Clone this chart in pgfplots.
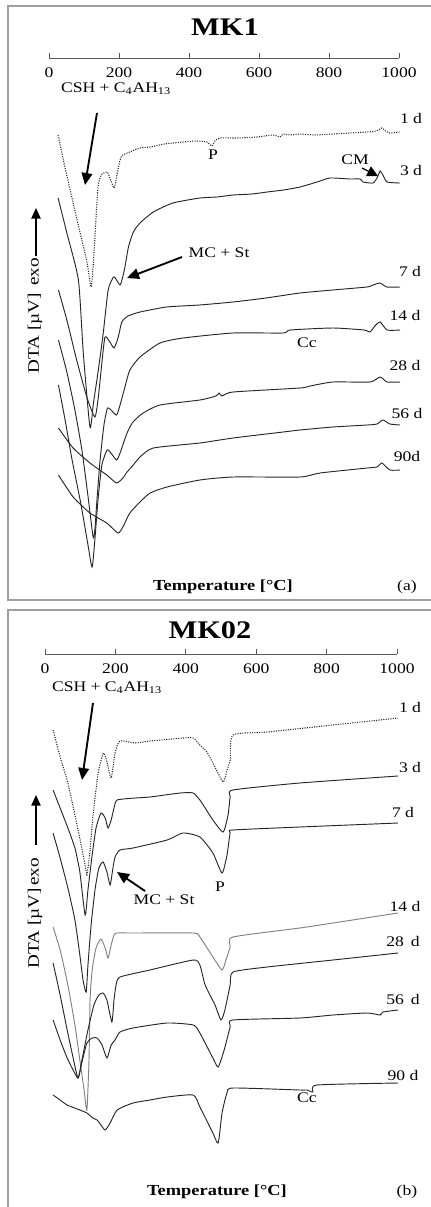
\documentclass[border=0pt]{standalone}
\usepackage{fontspec}
\setmainfont{Liberation Serif}[FakeStretch=1.2]
\usepackage{pgfplots}
\pgfplotsset{compat=1.18}
\usetikzlibrary{arrows.meta}

\pgfplotsset{
  curve/.style={black!85, line width=0.7pt, solid, no marks, smooth, tension=0.35},
  dots/.style={black!85, line width=0.8pt, densely dotted, no marks, smooth, tension=0.35},
  dta/.style={
    anchor=north west,
    x=0.2625pt, y=0.75pt,
    xmin=0, xmax=1000,
    axis x line=top, axis y line=none,
    axis line style={-, gray!70!black, line width=0.6pt},
    xtick={0,200,...,1000},
    tick align=outside, major tick length=4pt,
    xtick style={gray!70!black, line width=0.6pt},
    xticklabel style={anchor=north, yshift=-10pt, inner sep=1pt, font=\fontsize{11}{13}\selectfont},
    /pgf/number format/assume math mode=true,
    /pgf/number format/1000 sep={},
    clip=false,
  },
}

\begin{document}
\begin{tikzpicture}

% ---------- (a) MK1 ----------
\begin{axis}[dta, at={(36.75pt,-43.5pt)}, ymin=-600, ymax=-58]
% 1 d
\addplot[dots] coordinates {(26,-135)(46,-168)(69,-203)(89,-233)(109,-263)(120,-287)(126,-267)(134,-220)(140,-187)(149,-175)(166,-172)(174,-178)(186,-188)(194,-175)(203,-160)(211,-155)(260,-148)(289,-147)(330,-144)(383,-142)(420,-141)(451,-142)(466,-146)(474,-141)(489,-138)(540,-138)(594,-137)(640,-135)(660,-137)(669,-134)(690,-135)(720,-134)(760,-135)(811,-134)(860,-133)(909,-132)(935,-131)(951,-128)(962,-131)(974,-133)(1003,-132)};
% 3 d
\addplot[curve] coordinates {(26,-198)(51,-233)(84,-280)(98,-353)(117,-427)(127,-403)(141,-370)(155,-333)(169,-290)(184,-277)(191,-279)(203,-285)(210,-278)(217,-267)(227,-247)(241,-232)(260,-223)(298,-212)(354,-203)(431,-198)(480,-197)(526,-195)(580,-194)(623,-192)(670,-190)(717,-187)(766,-182)(803,-178)(860,-179)(889,-179)(897,-182)(926,-183)(937,-178)(946,-171)(954,-175)(966,-182)(1003,-183)};
% 7 d
\addplot[curve] coordinates {(27,-290)(51,-320)(79,-360)(108,-397)(131,-417)(141,-397)(151,-363)(160,-337)(174,-342)(186,-348)(198,-337)(208,-322)(226,-316)(260,-312)(336,-307)(430,-305)(526,-302)(620,-298)(717,-293)(810,-290)(908,-287)(926,-285)(946,-283)(965,-287)(1003,-287)};
% 14 d
\addplot[curve] coordinates {(27,-340)(51,-372)(74,-410)(94,-450)(111,-495)(126,-537)(131,-530)(137,-500)(146,-460)(157,-425)(167,-408)(177,-410)(193,-415)(203,-405)(217,-387)(231,-370)(260,-357)(317,-343)(383,-338)(526,-333)(669,-333)(689,-330)(811,-328)(900,-330)(917,-332)(931,-326)(946,-322)(966,-330)(1003,-330)};
% 28 d
\addplot[curve] coordinates {(27,-385)(46,-420)(66,-460)(89,-500)(109,-540)(123,-567)(131,-540)(140,-500)(151,-465)(166,-450)(177,-453)(193,-460)(203,-453)(223,-433)(240,-422)(269,-413)(317,-405)(431,-400)(477,-396)(486,-393)(494,-396)(526,-392)(717,-388)(746,-386)(811,-382)(917,-382)(946,-377)(966,-382)(1003,-382)};
% 56 d
\addplot[curve] coordinates {(27,-428)(69,-448)(117,-463)(165,-475)(193,-483)(211,-478)(223,-472)(236,-467)(260,-457)(298,-448)(431,-443)(526,-438)(669,-432)(717,-430)(811,-427)(909,-425)(937,-424)(954,-420)(974,-424)(1003,-425)};
% 90 d
\addplot[curve] coordinates {(27,-475)(69,-497)(117,-513)(165,-523)(197,-533)(211,-527)(231,-513)(260,-502)(289,-493)(337,-487)(431,-480)(526,-477)(717,-477)(774,-473)(909,-468)(937,-467)(951,-463)(974,-470)(1003,-470)};
\end{axis}

% ---------- (b) MK02 ----------
\begin{axis}[dta, at={(33.75pt,-490.5pt)}, x=0.264pt, ymin=-1207, ymax=-654]
% 1 d
\addplot[dots] coordinates {(23,-730)(43,-757)(65,-783)(94,-830)(114,-865)(119,-875)(128,-850)(136,-817)(151,-773)(166,-753)(176,-762)(188,-778)(199,-753)(213,-741)(256,-743)(298,-741)(392,-738)(421,-738)(440,-745)(460,-752)(477,-763)(506,-782)(517,-770)(526,-760)(534,-735)(631,-732)(818,-725)(1003,-718)};
% 3 d
\addplot[curve] coordinates {(23,-790)(43,-808)(65,-828)(85,-848)(99,-872)(114,-915)(122,-890)(134,-855)(145,-828)(159,-813)(171,-818)(179,-828)(188,-820)(196,-808)(205,-800)(256,-798)(298,-797)(384,-793)(421,-793)(440,-800)(455,-808)(477,-820)(506,-832)(520,-815)(526,-797)(534,-790)(724,-783)(1003,-776)};
% 7 d
\addplot[curve] coordinates {(23,-833)(43,-858)(65,-888)(85,-920)(99,-955)(108,-980)(117,-992)(122,-965)(131,-925)(142,-890)(153,-868)(165,-862)(176,-872)(185,-885)(193,-868)(199,-857)(213,-850)(250,-848)(347,-840)(392,-833)(440,-837)(477,-853)(503,-873)(517,-855)(526,-833)(534,-830)(724,-827)(1003,-823)};
% 14 d
\addplot[curve, gray] coordinates {(23,-927)(43,-950)(65,-985)(85,-1025)(99,-1060)(111,-1090)(119,-1110)(125,-1060)(128,-1000)(134,-970)(145,-948)(159,-939)(171,-948)(179,-958)(188,-945)(196,-935)(205,-933)(250,-933)(421,-933)(440,-937)(477,-957)(503,-970)(514,-960)(526,-947)(534,-937)(724,-928)(818,-923)(1003,-913)};
% 28 d
\addplot[curve] coordinates {(23,-963)(43,-995)(63,-1030)(80,-1058)(94,-1078)(105,-1060)(122,-1030)(139,-1005)(153,-995)(165,-993)(176,-1000)(190,-1022)(196,-1000)(202,-985)(213,-977)(298,-970)(421,-960)(440,-965)(455,-985)(483,-1005)(500,-1020)(511,-1010)(526,-985)(534,-972)(631,-967)(818,-960)(1003,-953)};
% 56 d
\addplot[curve] coordinates {(23,-1020)(43,-1040)(63,-1058)(80,-1070)(94,-1078)(105,-1062)(119,-1043)(134,-1038)(148,-1038)(162,-1045)(176,-1058)(188,-1045)(199,-1040)(213,-1032)(250,-1028)(347,-1023)(421,-1025)(440,-1033)(477,-1058)(492,-1067)(509,-1050)(526,-1027)(534,-1020)(724,-1018)(818,-1015)(915,-1013)(952,-1015)(960,-1012)(1003,-1010)};
% 90 d
\addplot[curve] coordinates {(23,-1095)(43,-1100)(63,-1105)(99,-1110)(119,-1113)(136,-1118)(148,-1120)(159,-1125)(171,-1130)(185,-1123)(205,-1110)(250,-1103)(298,-1100)(347,-1097)(421,-1095)(440,-1107)(477,-1133)(492,-1143)(503,-1113)(517,-1093)(534,-1088)(724,-1090)(744,-1090)(761,-1092)(773,-1085)(1003,-1083)};
\end{axis}

% ---------- frames and annotations (pixel grid) ----------
\begin{scope}[x=0.75pt, y=-0.75pt, font=\fontsize{11}{13}\selectfont, every node/.style={inner sep=1pt}]
\draw[gray!75, line width=1.5pt] (8,6) rectangle (445,600);
\draw[gray!75, line width=1.5pt] (8,610) rectangle (445,1220);

\node[font=\fontsize{19}{21}\selectfont\bfseries] at (225,27) {MK1};
\node at (116,89) {CSH + C\textsubscript{4}AH\textsubscript{13}};
\draw[line width=1.4pt, -{Triangle[length=9pt,width=8pt]}] (97,113) -- (85,185);
\node at (213,155) {P};
\node at (355,160) {CM};
\draw[line width=1pt, -{Triangle[length=8pt,width=8pt]}] (362,168) -- (378,176);
\node at (219,253) {MC + St};
\draw[line width=1.4pt, -{Triangle[length=9pt,width=8pt]}] (182,257) -- (127,278);
\node at (307,343) {Cc};
\node at (411,118) {1 d};
\node at (411,170) {3 d};
\node at (410,271) {7 d};
\node at (405,315) {14 d};
\node at (405,365) {28 d};
\node at (407,413) {56 d};
\node at (407,456) {90d};
\node[rotate=90, font=\fontsize{12}{14}\selectfont] at (35,333) {DTA [µV]};
\node[rotate=90, font=\fontsize{12}{14}\selectfont] at (35,272) {exo};
\draw[line width=1.2pt, -{Triangle[length=8pt,width=7pt]}] (36,256) -- (36,208);
\node[font=\fontsize{11.5}{13}\selectfont\bfseries] at (223,587) {Temperature [°C]};
\node at (407,587) {(a)};

\node[font=\fontsize{19}{21}\selectfont\bfseries] at (210,630) {MK02};
\node at (107,688) {CSH + C\textsubscript{4}AH\textsubscript{13}};
\draw[line width=1.4pt, -{Triangle[length=9pt,width=8pt]}] (93,703) -- (82,780);
\node at (164,900) {MC + St};
\draw[line width=1.4pt, -{Triangle[length=9pt,width=8pt]}] (145,891) -- (117,872);
\node at (220,887) {P};
\node at (307,1098) {Cc};
\node at (410,707) {1 d};
\node at (410,767) {3 d};
\node at (403,812) {7 d};
\node at (405,906) {14 d};
\node at (403,941) {28\, d};
\node at (403,999) {56\, d};
\node at (403,1075) {90 d};
\node[rotate=90, font=\fontsize{12}{14}\selectfont] at (35,928) {DTA [µV]};
\node[rotate=90, font=\fontsize{12}{14}\selectfont] at (35,872) {exo};
\draw[line width=1.2pt, -{Triangle[length=8pt,width=7pt]}] (36,845) -- (36,795);
\node[font=\fontsize{11.5}{13}\selectfont\bfseries] at (217,1192) {Temperature [°C]};
\node at (407,1192) {(b)};

\pgfresetboundingbox
\path[use as bounding box] (0,0) rectangle (430,1207);
\end{scope}
\end{tikzpicture}
\end{document}
